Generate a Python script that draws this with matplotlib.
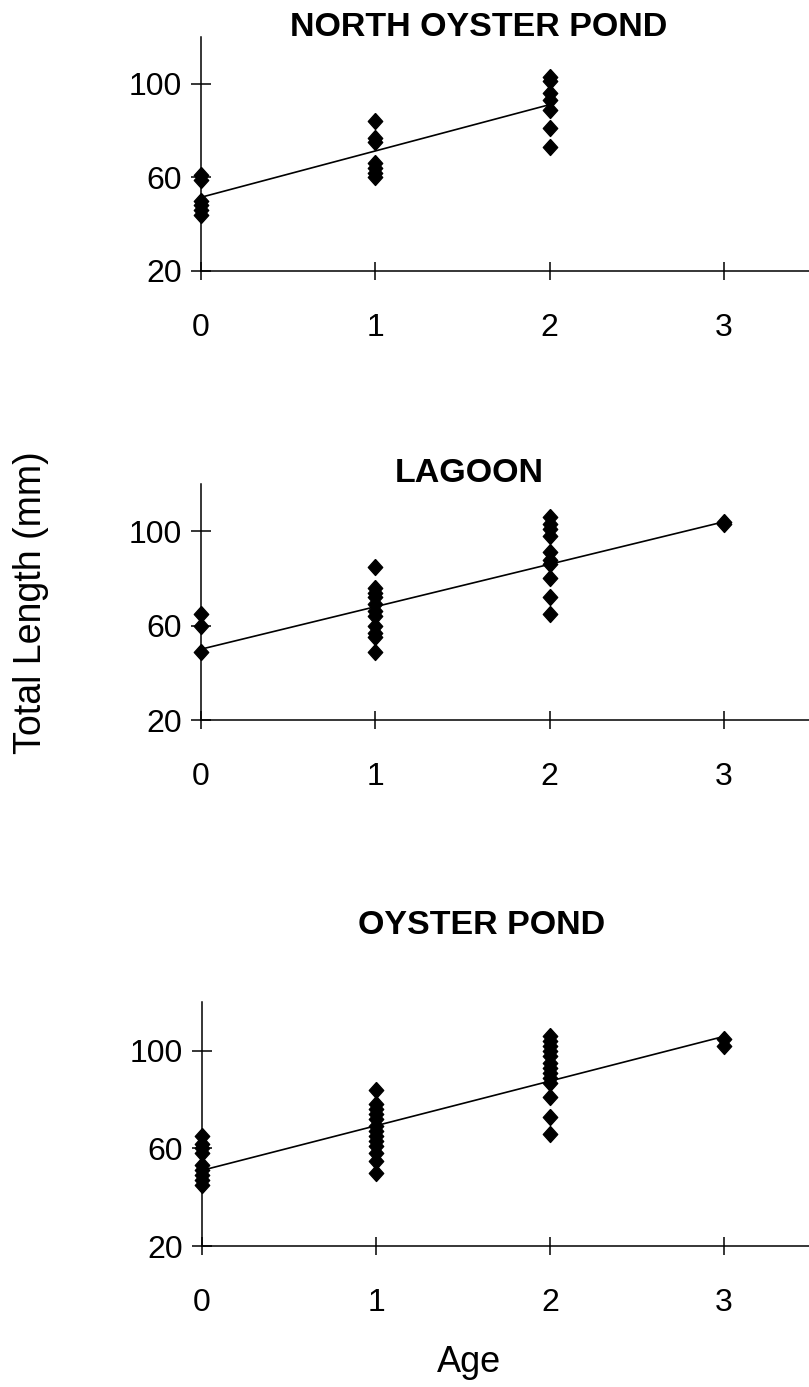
import matplotlib
matplotlib.use("Agg")
import matplotlib.pyplot as plt
import numpy as np

plt.rcParams['font.family'] = ['Liberation Sans', 'DejaVu Sans']

# ---- data ----
titles = ["NORTH OYSTER POND", "LAGOON", "OYSTER POND"]

np_ages = [0]*6 + [1]*7 + [2]*7
np_len = [61, 59, 50, 48, 46, 44,
          84, 77, 75, 66, 64, 62, 60,
          103, 101, 96, 93, 89, 81, 73]

lg_ages = [0]*3 + [1]*11 + [2]*10 + [3]*2
lg_len = [65, 60, 49,
          85, 76, 74, 72, 69, 66, 64, 60, 57, 55, 49,
          106, 103, 101, 98, 91, 88, 86, 80, 72, 65,
          104, 103]

op_ages = [0]*9 + [1]*13 + [2]*13 + [3]*2
op_len = [65, 62, 60, 58, 53, 51, 49, 47, 45,
          84, 78, 76, 74, 72, 69, 67, 65, 63, 61, 58, 55, 50,
          106, 104, 102, 100, 98, 95, 93, 91, 89, 87, 81, 73, 66,
          105, 102]

fit_intercept = [51.5, 50.0, 51.0]
fit_slope = [19.8, 18.0, 18.3]
fit_xmax = [2, 3, 3]

ages = [np_ages, lg_ages, op_ages]
lengths = [np_len, lg_len, op_len]

yticks = [20, 60, 100]
xticks = [0, 1, 2, 3]

# ---- layout ----
W, H = 809, 1387
fig = plt.figure(figsize=(W/100, H/100), dpi=100)

# (left px, top px (y=120), bottom px (y=20))
panels = [(201, 37, 271), (201, 484, 720), (202, 1002, 1246)]
title_pos = [(479, 27), (469, 474), (482, 925)]

diamond = [(0, 1), (0.9, 0), (0, -1), (-0.9, 0), (0, 1)]

for i, (l, t, b) in enumerate(panels):
    ax = fig.add_axes([l/W, 1 - b/H, (W - l)/W, (b - t)/H])
    ax.plot(ages[i], lengths[i], linestyle='none', marker=diamond,
            markersize=11.5, color='black', clip_on=False, zorder=3)
    xs = np.array([0, fit_xmax[i]])
    ax.plot(xs, fit_intercept[i] + fit_slope[i]*xs, color='black', lw=1.2,
            clip_on=False, zorder=2)
    ax.set_xlim(0, (W - l)/((724 - l)/3))
    ax.set_ylim(20, 120)
    ax.set_xticks(xticks)
    ax.set_yticks(yticks)
    for s in ['top', 'right']:
        ax.spines[s].set_visible(False)
    for s in ['left', 'bottom']:
        ax.spines[s].set_linewidth(1.1)
    ax.tick_params(axis='y', direction='inout', length=14, width=1.1,
                   labelsize=23, pad=7)
    ax.tick_params(axis='x', direction='inout', length=13, width=1.1,
                   labelsize=23, pad=24)
    ax.patch.set_visible(False)
    tx, ty = title_pos[i]
    fig.text(tx/W, 1 - ty/H, titles[i], ha='center', va='center',
             fontsize=24.5, fontweight='bold')

fig.text(31/W, 1 - 603/H, "Total Length (mm)", rotation=90, ha='center',
         va='center', fontsize=27)
fig.text(469/W, 1 - 1362/H, "Age", ha='center', va='center', fontsize=26)

fig.savefig("out.png", dpi=100)
